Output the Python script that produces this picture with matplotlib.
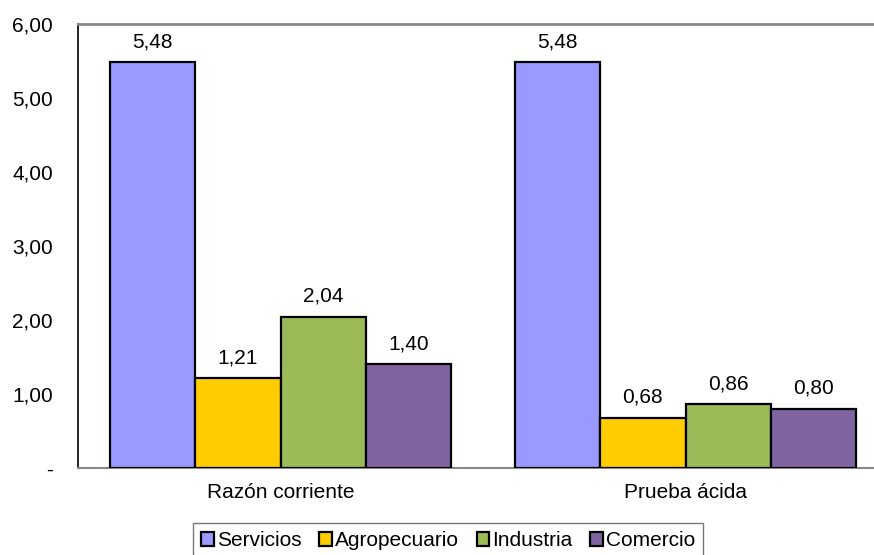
import matplotlib
matplotlib.use("Agg")
import matplotlib.pyplot as plt
import numpy as np
from matplotlib.patches import Patch

plt.rcParams['font.family'] = ['Liberation Sans', 'DejaVu Sans']

categories = ["Razón corriente", "Prueba ácida"]
series_names = ["Servicios", "Agropecuario", "Industria", "Comercio"]
servicios = [5.48, 5.48]
agropecuario = [1.21, 0.68]
industria = [2.04, 0.86]
comercio = [1.40, 0.80]
y_ticks = [0, 1, 2, 3, 4, 5, 6]
y_tick_labels = ["-", "1,00", "2,00", "3,00", "4,00", "5,00", "6,00"]

colors = ["#9999FF", "#FFCC00", "#9BBB59", "#8064A2"]
values = [servicios, agropecuario, industria, comercio]
FS = 15

W, H = 874, 555
fig = plt.figure(figsize=(W / 100, H / 100), dpi=100)
# plot area runs past the right edge of the canvas
ax = fig.add_axes([78 / W, (H - 468) / H, 810 / W, 444 / H])

x = np.arange(len(categories))
bw = 0.211
offsets = (np.arange(len(series_names)) - 1.5) * bw
for vals, off, col, name in zip(values, offsets, colors, series_names):
    bars = ax.bar(x + off, vals, width=bw, color=col, edgecolor="black",
                  linewidth=1.6, label=name, zorder=3)
    for b, v in zip(bars, vals):
        ax.annotate(f"{v:.2f}".replace(".", ","),
                    (b.get_x() + b.get_width() / 2, v),
                    xytext=(0, 8), textcoords="offset points",
                    ha="center", va="bottom", fontsize=FS)

ax.set_xlim(-0.5, 1.5)
ax.set_ylim(0, 6)
ax.set_yticks(y_ticks)
ax.set_yticklabels(y_tick_labels, fontsize=FS)
ax.set_xticks(x)
ax.set_xticklabels(categories, fontsize=FS)
ax.tick_params(axis="both", length=0)
ax.tick_params(axis="y", pad=18)
ax.tick_params(axis="x", pad=11)

ax.spines["left"].set_color("black")
ax.spines["left"].set_linewidth(1.2)
ax.spines["top"].set_color("#888888")
ax.spines["top"].set_linewidth(2)
ax.spines["bottom"].set_color("#888888")
ax.spines["bottom"].set_linewidth(1.5)
ax.spines["right"].set_visible(False)

handles = [Patch(facecolor=c, edgecolor="black", linewidth=1.6) for c in colors]
leg = fig.legend(handles, series_names, loc="upper left",
                 bbox_to_anchor=(193 / W, (H - 523) / H), ncol=4,
                 fontsize=FS, frameon=True, fancybox=False,
                 edgecolor="#555555", handlelength=0.6, handleheight=0.6,
                 handletextpad=0.15, columnspacing=0.85, borderpad=0.4,
                 borderaxespad=0)
leg.get_frame().set_linewidth(1.0)

fig.savefig("out.png", dpi=100)
